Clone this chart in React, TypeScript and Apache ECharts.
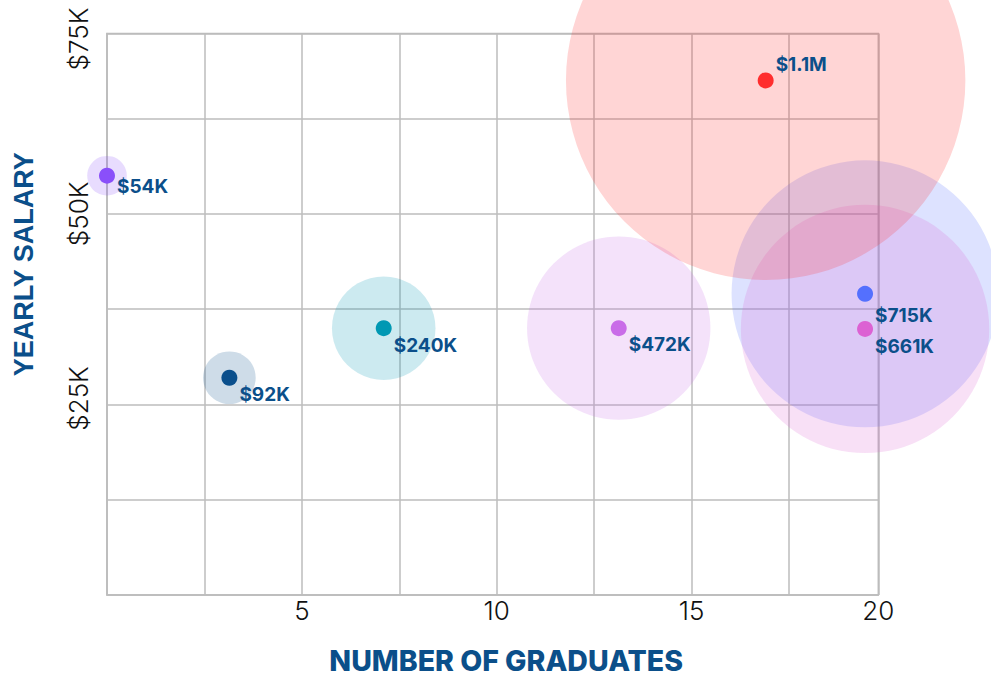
import React, { useEffect, useRef } from 'react';
import * as echarts from 'echarts';

// Bubble labels and the values (in $K) that set each bubble's size
const salaryLabels = ['$54K', '$92K', '$240K', '$472K', '$715K', '$661K', '$1.1M'];
const bubbleValues = [54, 92, 240, 472, 715, 661, 1100];
// x: number of graduates, y: yearly salary ($K)
const graduates = [0, 3.14, 7.1, 13.13, 19.45, 19.45, 16.9];
const salaries = [55, 28.5, 35, 35, 39.5, 34.9, 67.5];
const dotColors = ['#8a4ffa', '#0a4f8c', '#0098b3', '#c96ce8', '#5470fe', '#dc62d3', '#ff2e2e'];
// tick labels shown on the axes
const xTickLabels = [5, 10, 15, 20];
const yTickLabels = [25, 50, 75];
const xMax = 19.79;
const yMax = 73.65;

const labelOffsets: number[][] = [[0, 11], [0, 17], [0, 17], [0, 16], [0, 22], [0, 18], [0, -16]];

function hexA(hex: string, a: number) {
  const r = parseInt(hex.slice(1, 3), 16);
  const g = parseInt(hex.slice(3, 5), 16);
  const b = parseInt(hex.slice(5, 7), 16);
  return `rgba(${r},${g},${b},${a})`;
}

export default function App() {
  const ref = useRef<HTMLDivElement>(null);
  useEffect(() => {
    if (!ref.current) return;
    const chart = echarts.init(ref.current, undefined, { renderer: 'svg' });
    const gridColor = '#bdbdbd';
    const haloData = graduates.map((x, i) => ({
      value: [x, salaries[i], bubbleValues[i]],
      itemStyle: { color: hexA(dotColors[i], 0.2), opacity: 1 },
    }));
    const dotData = graduates.map((x, i) => ({
      value: [x, salaries[i], bubbleValues[i]],
      itemStyle: { color: dotColors[i], opacity: 1 },
      label: { offset: labelOffsets[i] },
    }));
    const yLabelStyle = { color: '#111', fontSize: 26, fontFamily: 'Inter', fontWeight: 300 };
    chart.setOption({
      animation: false,
      grid: {
        left: 107,
        top: 33.5,
        width: 771.3,
        height: 561.5,
        show: true,
        borderColor: gridColor,
        borderWidth: 1.5,
        containLabel: false,
        outerBoundsMode: 'none',
      },
      xAxis: {
        type: 'value',
        min: 0,
        max: xMax,
        interval: 2.5,
        axisLine: { show: true, lineStyle: { color: gridColor, width: 1.5 } },
        axisTick: { show: false },
        splitLine: { show: true, lineStyle: { color: gridColor, width: 1.5 } },
        axisLabel: {
          color: '#111',
          fontSize: 26,
          fontFamily: 'Inter',
          fontWeight: 300,
          margin: 2,
          showMaxLabel: true,
          formatter: (v: number) => (xTickLabels.includes(Math.round(v)) ? String(Math.round(v)) : ''),
        },
        name: 'NUMBER OF GRADUATES',
        nameLocation: 'middle',
        nameGap: 51,
        nameTextStyle: {
          color: '#0b4f8a',
          fontSize: 28.5,
          fontWeight: 800,
          fontFamily: 'Inter',
          padding: [0, 0, 0, 27],
        },
      },
      yAxis: {
        type: 'value',
        min: 0,
        max: yMax,
        interval: 12.5,
        axisLine: { show: true, lineStyle: { color: gridColor, width: 1.5 } },
        axisTick: { show: false },
        splitLine: { show: true, lineStyle: { color: gridColor, width: 1.5 } },
        axisLabel: {
          ...yLabelStyle,
          rotate: 90,
          margin: 16,
          showMaxLabel: true,
          formatter: (v: number) => {
            const r = Math.round(v / 5) * 5;
            if (!yTickLabels.includes(r)) return '';
            if (r === 75) return `{down|$${r}K}`;
            if (r === 25) return `{up|$${r}K}`;
            return `$${r}K`;
          },
          rich: {
            down: { ...yLabelStyle, padding: [0, 11, 0, 0] },
            up: { ...yLabelStyle, padding: [0, 0, 0, 12] },
          },
        },
        name: 'YEARLY SALARY',
        nameLocation: 'middle',
        nameGap: 70,
        nameTextStyle: {
          color: '#0b4f8a',
          fontSize: 27,
          fontWeight: 'bold',
          fontFamily: 'Liberation Sans',
          padding: [0, 0, 0, 100],
        },
      },
      series: [
        {
          type: 'scatter',
          clip: false,
          silent: true,
          z: 2,
          symbol: 'circle',
          symbolSize: (val: number[]) => 2 * (10.5 + 0.172 * val[2]),
          itemStyle: { opacity: 1 },
          data: haloData,
        },
        {
          type: 'scatter',
          clip: false,
          silent: true,
          z: 3,
          symbol: 'circle',
          symbolSize: 16,
          itemStyle: { opacity: 1 },
          data: dotData,
          label: {
            show: true,
            position: 'right',
            distance: 2,
            color: '#0b4f8a',
            fontSize: 19,
            fontWeight: 'bold',
            fontFamily: 'Inter',
            formatter: (p: any) => salaryLabels[p.dataIndex],
          },
        },
      ],
    });
    return () => chart.dispose();
  }, []);
  return (
    <div
      ref={ref}
      style={{ position: 'absolute', left: 0, top: 0, width: 991, height: 677, background: '#fff' }}
    />
  );
}
